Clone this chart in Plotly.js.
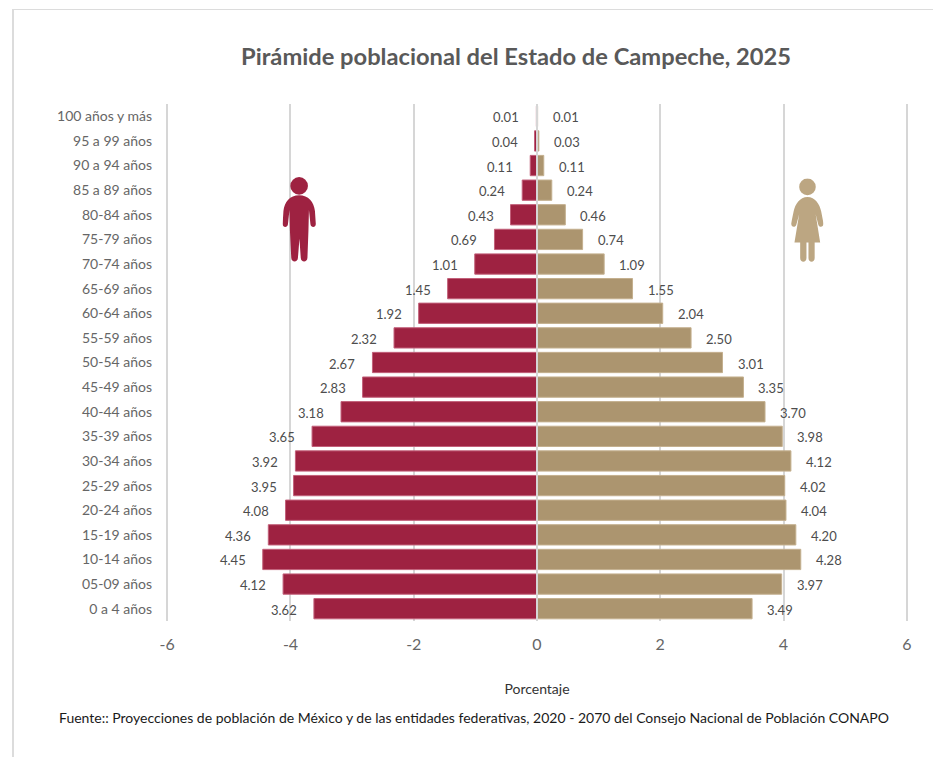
<!DOCTYPE html>
<html><head><meta charset="utf-8">
<script src="https://cdn.plot.ly/plotly-3.0.1.min.js"></script>
<style>html,body{margin:0;padding:0;background:#fff;overflow:hidden}
#chart{width:933px;height:757px}
#frame{position:absolute;left:12px;top:9px;width:921px;height:748px;border-left:2px solid #dcdcdc;border-top:1px solid #dcdcdc;box-sizing:border-box;pointer-events:none}</style>
</head><body><div id="chart"></div><div id="frame"></div>
<script>
const categories=["0 a 4 años","05-09 años","10-14 años","15-19 años","20-24 años","25-29 años","30-34 años","35-39 años","40-44 años","45-49 años","50-54 años","55-59 años","60-64 años","65-69 años","70-74 años","75-79 años","80-84 años","85 a 89 años","90 a 94 años","95 a 99 años","100 años y más"];
const hombres=[3.62,4.12,4.45,4.36,4.08,3.95,3.92,3.65,3.18,2.83,2.67,2.32,1.92,1.45,1.01,0.69,0.43,0.24,0.11,0.04,0.01];
const mujeres=[3.49,3.97,4.28,4.20,4.04,4.02,4.12,3.98,3.70,3.35,3.01,2.50,2.04,1.55,1.09,0.74,0.46,0.24,0.11,0.03,0.01];
const tickVals=[-6,-4,-2,0,2,4,6];
const tickText=["-6","-4","-2","0","2","4","6"];
const FONT="Lato, sans-serif";
const manSvg=`<svg xmlns="http://www.w3.org/2000/svg" viewBox="0 0 33.5 86"><g fill="#9e2241"><circle cx="16.7" cy="9" r="8.8"/><path d="M16.7 18.3C26 18.3 31.5 25 32.5 34L33.4 47C33.6 51 28.6 51.5 28 47.5L26.5 33L26 54L25 81C24.8 86 18.5 86 18.3 81L17 62L15.5 81C15.3 86 9 86 8.8 81L7.5 54L7 33L5.5 47.5C5 51.5 0 51 .2 47L1 34C2 25 7.4 18.3 16.7 18.3Z"/></g></svg>`;
const womanSvg=`<svg xmlns="http://www.w3.org/2000/svg" viewBox="0 0 32.3 85"><g fill="#bca682"><circle cx="16.3" cy="8.7" r="8.3"/><path d="M16.3 18.7C24 18.7 28.5 26 30 33L32.3 45C32.8 49 28 50 27 46L24.5 36L29 64.3H23.5V80C23.5 85 17.3 85 17.3 80V64.3H15.3V80C15.3 85 9 85 9 80V64.3H3.3L8 36L5.3 46C4.3 50 -.5 49 0 45L2.5 33C4 26 8.6 18.7 16.3 18.7Z"/></g></svg>`;
const uri=s=>"data:image/svg+xml;charset=utf-8,"+encodeURIComponent(s);
const W=933,H=757,PAD=0.02,UNIT=61.625,L=167.1-PAD*UNIT,R=906.6+PAD*UNIT,T=103.7,B=621.3;
const ann=[];
categories.forEach((c,i)=>{
 ann.push({x:-hombres[i],y:c,xref:"x",yref:"y",text:hombres[i].toFixed(2),showarrow:false,xanchor:"right",xshift:-15,yshift:-1,font:{family:FONT,size:13,color:"#4d4d4d"}});
 ann.push({x:mujeres[i],y:c,xref:"x",yref:"y",text:mujeres[i].toFixed(2),showarrow:false,xanchor:"left",xshift:13,yshift:-1,font:{family:FONT,size:13,color:"#4d4d4d"}});
});
ann.push({xref:"paper",yref:"paper",x:(473.5-L)/(R-L),y:(B-718)/(B-T),text:"Fuente:: Proyecciones de población de México y de las entidades federativas, 2020 - 2070 del Consejo Nacional de Población CONAPO",showarrow:false,xanchor:"center",yanchor:"middle",font:{family:FONT,size:14,color:"#1a1a1a"}});
const bar=(x,name,color,line)=>({type:"bar",orientation:"h",name,y:categories,x,marker:{color,line:{color:line,width:1}},hoverinfo:"skip"});
Plotly.newPlot("chart",[bar(hombres.map(v=>-v),"Hombres","#9e2241","#c2607a"),bar(mujeres,"Mujeres","#ac956f","#c4b08f")],{
 width:W,height:H,paper_bgcolor:"#fff",plot_bgcolor:"#fff",showlegend:false,barmode:"overlay",bargap:0.176,
 margin:{l:L,r:W-R,t:T,b:H-B,pad:0},
 title:{text:"Pirámide poblacional del Estado de Campeche, 2025",x:516/W,xanchor:"center",y:1-57/H,yanchor:"middle",font:{family:FONT,size:23.7,color:"#595959",weight:700}},
 xaxis:{range:[-6-PAD,6+PAD],tickmode:"array",tickvals:tickVals,ticktext:tickText,showgrid:true,gridcolor:"#d6d6d6",gridwidth:2,zeroline:false,showline:false,ticks:"",tickfont:{family:FONT,size:16,color:"#666666"},ticklabelstandoff:12,
  title:{text:"Porcentaje",font:{family:FONT,size:14,color:"#333333"},standoff:32}},
 yaxis:{type:"category",categoryorder:"array",categoryarray:categories,range:[-0.5,20.5],showgrid:false,zeroline:false,showline:false,ticks:"",tickfont:{family:FONT,size:14,color:"#666666"},ticklabelstandoff:13},
 annotations:ann,
 shapes:[{type:"line",xref:"x",yref:"paper",x0:0,x1:0,y0:0,y1:1,layer:"above",line:{color:"#d6d6d6",width:2}}],
 images:[
  {source:uri(manSvg),xref:"paper",yref:"paper",x:(282.3-L)/(R-L),y:(B-176.7)/(B-T),sizex:33.5/(R-L),sizey:86/(B-T),xanchor:"left",yanchor:"top",sizing:"stretch",layer:"above"},
  {source:uri(womanSvg),xref:"paper",yref:"paper",x:(791-L)/(R-L),y:(B-178)/(B-T),sizex:32.3/(R-L),sizey:85/(B-T),xanchor:"left",yanchor:"top",sizing:"stretch",layer:"above"}
 ]
},{displayModeBar:false,staticPlot:true});
</script></body></html>
